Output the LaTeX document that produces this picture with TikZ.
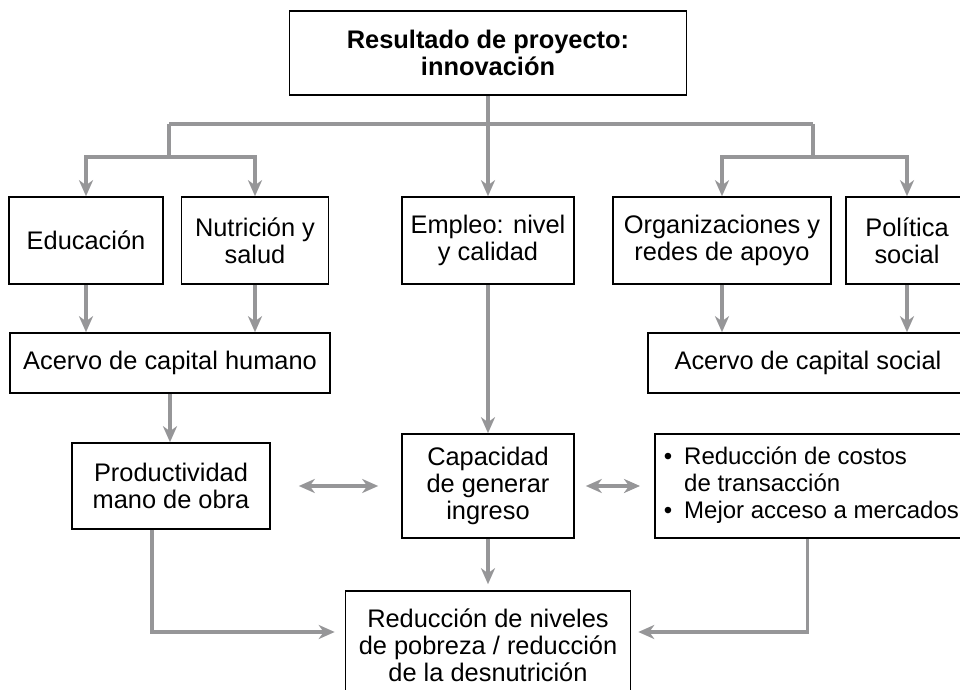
\documentclass[tikz,border=0pt]{standalone}
\usepackage{fontspec}
\setmainfont{Liberation Sans}
\usetikzlibrary{arrows.meta}
\definecolor{linkgray}{RGB}{150,150,152}

\begin{document}
\begin{tikzpicture}[
                x=0.5pt, y=-0.5pt,
                box/.style={draw, line width=0.8pt, align=center, inner sep=0pt,
                            font=\fontsize{12.7}{13.6}\selectfont},
                tip/.tip={Stealth[length=8pt,width=7pt,inset=2.5pt]},
                link/.style={draw=linkgray, line width=1.6pt},
                arr/.style={link, -tip},
                dbl/.style={link, tip-tip}
            ]
            \clip (0,0) rectangle (960,690);
            \node[box, minimum width=198.5pt, minimum height=42pt, font=\fontsize{12.7}{13.6}\selectfont\bfseries]
                (top) at (488,53) {Resultado de proyecto:\\innovación};
            \node[box, minimum width=77pt, minimum height=43.5pt] (edu) at (86,240.5) {Educación};
            \node[box, minimum width=73.5pt, minimum height=43.5pt] (nut) at (255,240.5) {Nutrición y\\salud};
            \node[box, minimum width=86pt, minimum height=43.5pt] (emp) at (488,240.5) {Empleo: nivel\\y calidad};
            \node[box, minimum width=109pt, minimum height=43.5pt] (org) at (722,240.5) {Organizaciones y\\redes de apoyo};
            \node[box, minimum width=61pt, minimum height=43.5pt] (pol) at (907,240.5) {Política\\social};
            \node[box, minimum width=160pt, minimum height=30pt] (ach) at (170,363) {Acervo de capital humano};
            \node[box, minimum width=160pt, minimum height=30pt] (acs) at (808,363) {Acervo de capital social};
            \node[box, minimum width=99pt, minimum height=43pt] (prod) at (171,486) {Productividad\\mano de obra};
            \node[box, minimum width=86pt, minimum height=52pt] (cap) at (488,486) {Capacidad\\de generar\\ingreso};
            \node[box, anchor=west, inner xsep=4.5pt, minimum height=52pt,
                  font=\fontsize{12}{13.6}\selectfont] (bul) at (654,486)
                {\begin{tabular}{@{}l@{\hspace{6pt}}l@{}}
                 \textbullet & Reducción de costos\\
                             & de transacción\\
                 \textbullet & Mejor acceso a mercados
                 \end{tabular}};
            \node[box, minimum width=142.5pt, minimum height=54pt] (bot) at (488,645)
                {Reducción de niveles\\de pobreza / reducción\\de la desnutrición};

            \coordinate (jl) at (169,124);
            \coordinate (jr) at (813,124);
            \coordinate (bl) at (169,157);
            \coordinate (br) at (813,157);

            \draw[arr] (top) -- (emp);
            \draw[link] (jl) -- (jr);
            \draw[link] (jl) -- (bl);
            \draw[link] (jr) -- (br);
            \draw[arr] (bl) -| (edu);
            \draw[arr] (bl) -| (nut);
            \draw[arr] (br) -| (org);
            \draw[arr] (br) -| (pol);

            \draw[arr] (edu) -- (edu |- ach.north);
            \draw[arr] (nut) -- (nut |- ach.north);
            \draw[arr] (org) -- (org |- acs.north);
            \draw[arr] (pol) -- (pol |- acs.north);
            \draw[arr] (ach) -- (ach |- prod.north);
            \draw[arr] (emp) -- (cap);

            \draw[dbl, shorten <=14pt, shorten >=11.5pt] (prod) -- (cap);
            \draw[dbl, shorten <=5.5pt, shorten >=7pt] (cap) -- (bul);

            \draw[arr, shorten >=3pt] (cap) -- (bot);
            \draw[arr, shorten >=5pt] ([xshift=-9.5pt]prod.south) |- ([yshift=6.5pt]bot.west);
            \draw[arr, shorten >=3.5pt] ([xshift=-1.75pt]bul.south) |- ([yshift=6.5pt]bot.east);
        \end{tikzpicture}
\end{document}
